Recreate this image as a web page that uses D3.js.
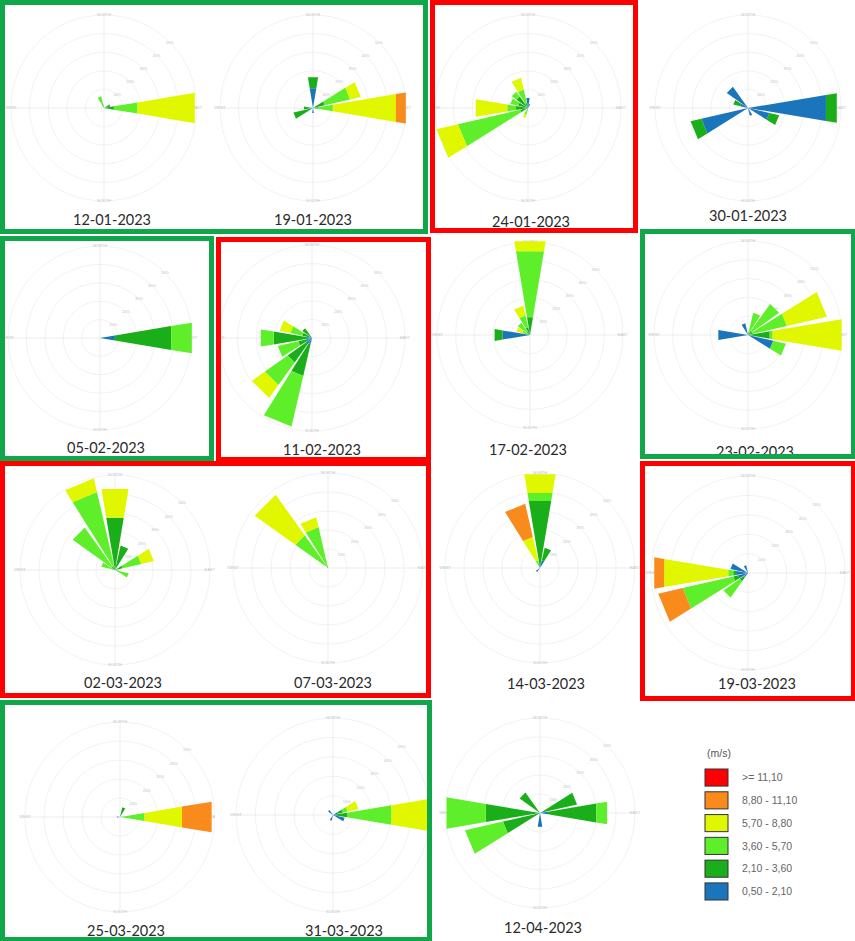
<!DOCTYPE html>
<html>
<head>
<meta charset="utf-8">
<script src="https://cdn.jsdelivr.net/npm/d3@7"></script>
<style>
  html, body { margin: 0; padding: 0; background: #fff; }
  svg { display: block; }
</style>
</head>
<body>
<svg id="chart" width="855" height="941"></svg>
<script>
// ---- data ---------------------------------------------------------------
const directions = ["N","NNE","NE","ENE","E","ESE","SE","SSE","S","SSW","SW","WSW","W","WNW","NW","NNW"];
const speedClasses = ["0,50 - 2,10","2,10 - 3,60","3,60 - 5,70","5,70 - 8,80","8,80 - 11,10",">= 11,10"];
const speedUnit = "(m/s)";
const ringTicks = [10, 20, 30, 40, 50];          // frequency rings, %
const compassLabels = ["NORTH", "EAST", "SOUTH", "WEST"];
const dates = ["12-01-2023","19-01-2023","24-01-2023","30-01-2023",
               "05-02-2023","11-02-2023","17-02-2023","23-02-2023",
               "02-03-2023","07-03-2023","14-03-2023","19-03-2023",
               "25-03-2023","31-03-2023","12-04-2023"];

// frequency (%) per direction, one column per speed class (0,50-2,10 ... >=11,10)
const r1201 = [["NNW",0,2.2,4.3],["ENE",0,3.5],["E",0,5.4,12.9,31.2]];
const r1901 = [["E",0,2.7,8.1,34.4,5.4],["ENE",0,6.5,14.0,5.9],["N",10.8,5.9],
               ["WSW",2.2,8.6],["W",1.1,3.8],["S",2.7]];
const r2401 = [["WSW",1.1,3.2,34.4,11.8],["W",0,6.5,4.8,17.2],["WNW",1.1,4.3,4.3],
               ["NW",1.1,6.5,3.2],["NNW",0,2.7,7.5,6.5],["N",5.4],["NNE",2.2],["SSW",0,1.6,2.2,1.6]];
const r3001 = [["E",42.5,5.9],["WSW",25.8,5.9],["ESE",11.8,5.4],["NW",14],["WNW",4.3,3.8],["SSE",4.3]];
const r0502 = [["E",8.2,31,11.4]];
const r1102 = [["SSW",3.2,17.7,28],["SW",4.3,11.8,15,8.6],["WSW",2.2,5.4,11.3],
               ["W",3.2,17.7,7],["WNW",1.1,4.3,6.5,5.9],["NW",1.6,4.8]];
const r1702 = [["N",1.1,8.6,36,5.4],["NNW",0,4.3,6.5,5.4],["NW",0,2.2,5.9],
               ["WNW",0,1.6,2.7,3.2],["W",15,4.3]];
const r2302 = [["E",1.1,10.6,1.6,37.2],["ENE",0,2.7,18.6,21.8],["NE",0,2.7,17.6],
               ["NNE",0,1.6,10.6],["ESE",13.8,0,6.9],["W",16],["NNW",6.4]];
const r0203 = [["NNW",0,2.1,40,7.4],["N",0,27.9,0,15.3],["NW",0,2.1,25.3],["NNE",0,13.2],
               ["ENE",0,4.2,10,6.8],["ESE",0,2.1,5.3],["WNW",0,1.6,5.8]];
const r0703 = [["NW",0,1.1,20,26.3],["NNW",0,1.1,21,5.3]];
const r1403 = [["N",2.1,33.7,4.2,10],["NNW",0,1.6,2.6,12.6,17.9],["NNE",4.2,6.8],["SW",2.6]];
const r1903 = [["W",6.2,1.5,2.6,33.5,5.2],["WSW",5.2,2.6,26.8,0,12.9],["SW",2.6,2.6,10.3],
               ["WNW",9.3],["NNW",4.1]];
const r2503 = [["E",0,1,12.1,20,15.8],["NNE",1.6,3.7],["W",1.6]];
const r3103 = [["E",2.1,5.2,23.2,23.2],["ENE",2.6,2.6,2.6,5.7],["ESE",6.2],["NW",3.1],["SSW",3.1]];
const r1204 = [["W",1,27.9,21],["WSW",0,20,20.5],["E",4.2,25.8,5.8],["ENE",1.6,18.4],
               ["NW",0,13.2],["S",7.4]];

const roseData = [r1201,r1901,r2401,r3001,r0502,r1102,r1702,r2302,
                  r0203,r0703,r1403,r1903,r2503,r3103,r1204];

// ---- styles & layout ----------------------------------------------------
const classColors = ["#1b75bb","#1aaf1a","#5fef2a","#e0f700","#f98a1c","#ff0000"];
const frameGreen = "#10a64a", frameRed = "#ff0000";

// rose centre, outer ring radius, clip box [x0,y0,x1,y1], label position
const layout = [
  {cx:104, cy:108, R:93, clip:[5,5,212,229],   lx:112, ly:225},
  {cx:313, cy:108, R:93, clip:[212,5,423,229], lx:313, ly:225},
  {cx:528, cy:108, R:93, clip:[435,5,633,229], lx:531, ly:227},
  {cx:748, cy:108, R:93, clip:[640,0,855,229], lx:748, ly:221},
  {cx:100, cy:338, R:92, clip:[5,241,209,457], lx:106, ly:453},
  {cx:312, cy:338, R:93, clip:[221,242,426,457], lx:322, ly:455},
  {cx:530, cy:335, R:93, clip:[431,237,640,461], lx:528, ly:455},
  {cx:748, cy:335, R:94, clip:[645,234,850,453], lx:755, ly:457},
  {cx:115, cy:570, R:95, clip:[5,466,215,693], lx:123, ly:688},
  {cx:328, cy:568, R:95, clip:[215,466,426,693], lx:333, ly:688},
  {cx:540, cy:568, R:95, clip:[431,461,640,700], lx:546, ly:689},
  {cx:748, cy:573, R:97, clip:[645,466,850,696], lx:757, ly:689},
  {cx:120, cy:817, R:95, clip:[4,705,215,936],  lx:126, ly:936},
  {cx:333, cy:815, R:97, clip:[215,705,427,936], lx:344, ly:936},
  {cx:540, cy:813, R:95, clip:[432,700,640,941], lx:543, ly:933}
];

// coloured group frames: outer box [x0,y0,x1,y1]
const frames = [
  {box:[0,0,428,234],   color:frameGreen},
  {box:[430,0,638,233], color:frameRed},
  {box:[0,236,214,461], color:frameGreen},
  {box:[216,237,431,462], color:frameRed},
  {box:[640,229,856,459], color:frameGreen},
  {box:[0,461,431,698], color:frameRed},
  {box:[640,461,856,701], color:frameRed},
  {box:[0,700,432,942], color:frameGreen}
];
const frameWidth = 5;

// ---- drawing ------------------------------------------------------------
const svg = d3.select("#chart");
const defs = svg.append("defs");
const dirAngle = d3.scalePoint().domain(directions).range([0, 2*Math.PI*15/16]);
const halfWidth = 9.5 * Math.PI / 180;
const radial = d3.lineRadial().angle(d => d[0]).radius(d => d[1]);

layout.forEach((p, i) => {
  const id = "clip" + i;
  defs.append("clipPath").attr("id", id).append("rect")
    .attr("x", p.clip[0]).attr("y", p.clip[1])
    .attr("width", p.clip[2]-p.clip[0]).attr("height", p.clip[3]-p.clip[1]);

  const g = svg.append("g").attr("clip-path", `url(#${id})`)
    .append("g").attr("transform", `translate(${p.cx},${p.cy})`);
  const r = d3.scaleLinear().domain([0, d3.max(ringTicks)]).range([0, p.R]);

  // faint grid
  g.selectAll("circle.ring").data(ringTicks).join("circle")
    .attr("class","ring").attr("r", d => r(d))
    .attr("fill","none").attr("stroke","#efefef").attr("stroke-width",0.8);
  g.selectAll("line.axis").data([0, Math.PI/2]).join("line")
    .attr("class","axis")
    .attr("x1", d => -Math.sin(d)*r(50)).attr("y1", d => -Math.cos(d)*r(50))
    .attr("x2", d => Math.sin(d)*r(50)).attr("y2", d => Math.cos(d)*r(50))
    .attr("stroke","#e8e8e8").attr("stroke-width",0.8);
  g.selectAll("text.tick").data(ringTicks).join("text")
    .attr("class","tick")
    .attr("x", d => Math.sin(Math.PI/4)*r(d)).attr("y", d => -Math.cos(Math.PI/4)*r(d))
    .attr("text-anchor","middle").attr("dy","0.35em")
    .attr("font-family","Liberation Sans, Arial, sans-serif").attr("font-size",4)
    .attr("fill","#c4c4c4").text(d => d + "%");
  g.selectAll("text.compass").data(compassLabels).join("text")
    .attr("class","compass")
    .attr("x", (d,k) => Math.sin(k*Math.PI/2)*r(50))
    .attr("y", (d,k) => -Math.cos(k*Math.PI/2)*r(50))
    .attr("text-anchor","middle").attr("dy","0.35em")
    .attr("font-family","Liberation Sans, Arial, sans-serif").attr("font-size",4)
    .attr("fill","#c4c4c4").text(d => d);

  // petals: stacked speed classes along each direction
  const segs = [];
  roseData[i].forEach(row => {
    const dir = row[0], vals = row.slice(1);
    const cum = d3.cumsum(vals);
    vals.forEach((v, k) => {
      if (v > 0) segs.push({dir, k, v0: cum[k]-v, v1: cum[k]});
    });
  });
  g.selectAll("path.petal").data(segs).join("path")
    .attr("class","petal")
    .attr("fill", d => classColors[d.k])
    .attr("d", d => {
      const a = dirAngle(d.dir);
      return radial([[a-halfWidth, r(d.v0)], [a-halfWidth, r(d.v1)],
                     [a+halfWidth, r(d.v1)], [a+halfWidth, r(d.v0)]]) + "Z";
    });
});

// date captions
svg.selectAll("text.date").data(dates).join("text")
  .attr("class","date")
  .attr("x", (d,i) => layout[i].lx).attr("y", (d,i) => layout[i].ly)
  .attr("text-anchor","middle")
  .attr("font-family","Lato, 'Open Sans', sans-serif").attr("font-size",14.5)
  .attr("fill","#2a2a2a").text(d => d);

// group frames
svg.selectAll("rect.frame").data(frames).join("rect")
  .attr("class","frame")
  .attr("x", d => d.box[0] + frameWidth/2).attr("y", d => d.box[1] + frameWidth/2)
  .attr("width", d => d.box[2]-d.box[0]-frameWidth).attr("height", d => d.box[3]-d.box[1]-frameWidth)
  .attr("fill","none").attr("stroke", d => d.color).attr("stroke-width", frameWidth);

// legend
const legend = svg.append("g").attr("transform","translate(705,0)");
legend.append("text").attr("x",2).attr("y",757)
  .attr("font-family","Liberation Sans, Arial, sans-serif").attr("font-size",10.5)
  .attr("fill","#555").text(speedUnit);
const legendRows = d3.range(speedClasses.length).reverse();
const ly = d3.scaleBand().domain(legendRows).range([769, 900]).paddingInner(0.25);
legend.selectAll("rect.key").data(legendRows).join("rect")
  .attr("class","key").attr("x",0).attr("y", d => ly(d))
  .attr("width",23).attr("height", ly.bandwidth())
  .attr("fill", d => classColors[d]).attr("stroke","#333").attr("stroke-width",1);
legend.selectAll("text.key").data(legendRows).join("text")
  .attr("class","key").attr("x",37).attr("y", d => ly(d) + ly.bandwidth()/2)
  .attr("dy","0.35em")
  .attr("font-family","Liberation Sans, Arial, sans-serif").attr("font-size",10.5)
  .attr("fill","#666").text(d => speedClasses[d]);
</script>
</body>
</html>
